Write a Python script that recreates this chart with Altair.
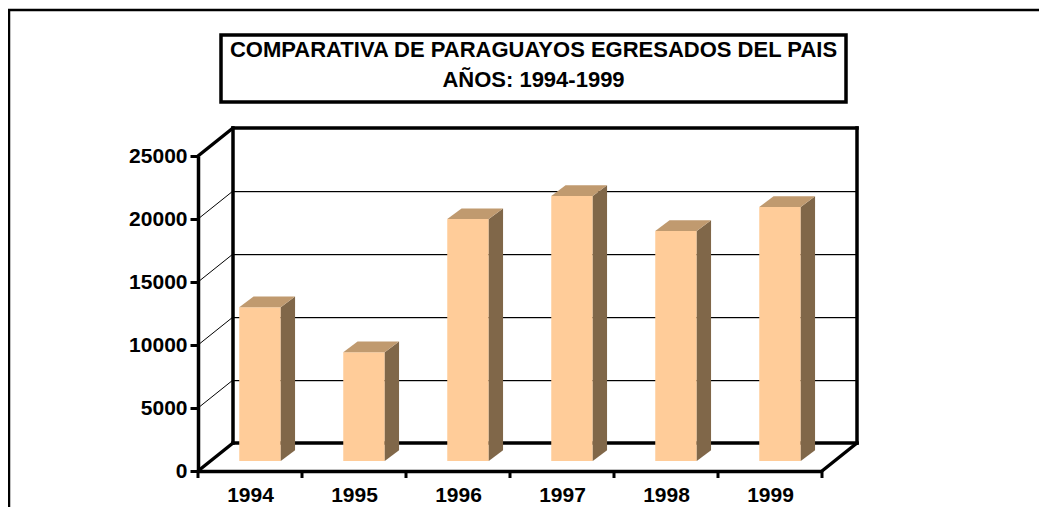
import json
import altair as alt
import pandas as pd

# ---------------- data ----------------
years = ["1994", "1995", "1996", "1997", "1998", "1999"]
egresados = [12200, 8630, 19200, 21030, 18250, 20160]
y_ticks = [0, 5000, 10000, 15000, 20000, 25000]
title_lines = ["COMPARATIVA DE PARAGUAYOS EGRESADOS DEL PAIS", "AÑOS: 1994-1999"]

# ---------------- style / layout ----------------
FONT = "Liberation Sans"
W, H = 624, 315
PAD_L, PAD_T = 190, 148
PAD_R = 1031 - W - PAD_L
PAD_B = 499 - H - PAD_T
YMAX = y_ticks[-1]
N = len(years)

WALL_DX, WALL_DY = 35, 28      # depth of the floor (px)
BAR_DX, BAR_DY = 10, 10        # bar front face set back (px)
DEP_DX, DEP_DY = 14.3, 10.7    # bar depth (px)
BAR_W = 41.5                   # bar width (px)

FRONT = "#FFCC99"
TOP = "#C09A6F"
SIDE = "#806749"

XU = N / W          # category units per px
YU = YMAX / H       # value units per px

xs = alt.Scale(domain=[0, N], nice=False, zero=False)
ys = alt.Scale(domain=[0, YMAX], nice=False, zero=False)

x_axis = alt.Axis(
    values=[i + 0.5 for i in range(N)],
    labelExpr=f"{json.dumps(years)}[floor(datum.value)]",
    ticks=False, grid=False, domainWidth=3.5, domainColor="black",
    labelFont=FONT, labelFontSize=21, labelFontWeight="bold", labelColor="black",
    labelPadding=13, title=None,
)
y_axis = alt.Axis(
    values=y_ticks, format="d", grid=False,
    tickWidth=3, tickSize=8, tickColor="black",
    domainWidth=3.5, domainColor="black",
    labelFont=FONT, labelFontSize=21, labelFontWeight="bold", labelColor="black",
    labelPadding=3, title=None,
)


def X(f):
    return alt.X(f, type="quantitative", scale=xs, axis=x_axis)


def Y(f):
    return alt.Y(f, type="quantitative", scale=ys, axis=y_axis, stack=None)


# ---------------- derived geometry tables ----------------
grid_vals = y_ticks[1:-1]

wall_thick = pd.DataFrame([
    dict(x=0, x2=N, y=0, y2=0),
    dict(x=0, x2=N, y=YMAX, y2=YMAX),
    dict(x=0, x2=0, y=0, y2=YMAX),
    dict(x=N, x2=N, y=0, y2=YMAX),
])
wall_grid = pd.DataFrame([dict(x=0, x2=N, y=g, y2=g) for g in grid_vals])

diag_thick = pd.DataFrame([
    dict(x=0, y=YMAX),
    dict(x=0, y=0),
    dict(x=N, y=0),
])
diag_grid = pd.DataFrame([dict(x=0, y=g) for g in grid_vals])

front_rows, side_rows, top_rows = [], [], []
b = BAR_DY * YU
ddx, ddy = DEP_DX * XU, DEP_DY * YU
for i, (yr, v) in enumerate(zip(years, egresados)):
    c = i + 0.5 + BAR_DX * XU
    xl, xr = c - BAR_W / 2 * XU, c + BAR_W / 2 * XU
    t = b + v
    front_rows.append(dict(year=yr, xl=xl, xr=xr, y0=b, y1=t))
    side_rows += [
        dict(year=yr, x=xr, top=t, bot=b),
        dict(year=yr, x=xr + ddx, top=t + ddy, bot=b + ddy),
    ]
    top_rows += [
        dict(year=yr, x=xl, top=t, bot=t),
        dict(year=yr, x=xl + ddx, top=t + ddy, bot=t),
        dict(year=yr, x=xr, top=t + ddy, bot=t),
        dict(year=yr, x=xr + ddx, top=t + ddy, bot=t + ddy),
    ]
front_df = pd.DataFrame(front_rows)
side_df = pd.DataFrame(side_rows)
top_df = pd.DataFrame(top_rows)
tick_df = pd.DataFrame({"b": list(range(N + 1))})
title_df = pd.DataFrame({"t": ["\n".join(title_lines)]})

# ---------------- layers ----------------
frame = alt.Chart(title_df).mark_rect(
    filled=False, stroke="black", strokeWidth=2.5
).encode(
    x=alt.value(-PAD_L + 1), x2=alt.value(W + PAD_R + 60),
    y=alt.value(-PAD_T + 2), y2=alt.value(H + PAD_B + 60),
)

title_box = alt.Chart(title_df).mark_rect(
    fill="white", stroke="black", strokeWidth=3.5
).encode(
    x=alt.value(23), x2=alt.value(648), y=alt.value(-121), y2=alt.value(-54),
)

title_text = alt.Chart(title_df).mark_text(
    font=FONT, fontSize=22, fontWeight="bold", color="black",
    align="center", baseline="alphabetic", lineBreak="\n", lineHeight=30,
).encode(x=alt.value(335.5), y=alt.value(-99), text="t:N")

grid_shadow = alt.Chart(wall_grid).mark_rule(
    color="#c8c8c8", strokeWidth=1, xOffset=WALL_DX, x2Offset=WALL_DX,
    yOffset=-WALL_DY + 1.5, y2Offset=-WALL_DY + 1.5,
).encode(x=X("x"), x2="x2", y=Y("y"), y2="y2")

wall_g = alt.Chart(wall_grid).mark_rule(
    color="black", strokeWidth=1, xOffset=WALL_DX, x2Offset=WALL_DX,
    yOffset=-WALL_DY + 0.5, y2Offset=-WALL_DY + 0.5,
).encode(x=X("x"), x2="x2", y=Y("y"), y2="y2")

wall_t = alt.Chart(wall_thick).mark_rule(
    color="black", strokeWidth=3.5, xOffset=WALL_DX, x2Offset=WALL_DX,
    yOffset=-WALL_DY, y2Offset=-WALL_DY, strokeCap="square",
).encode(x=X("x"), x2="x2", y=Y("y"), y2="y2")

diag_g = alt.Chart(diag_grid).mark_rule(
    color="black", strokeWidth=1, x2Offset=WALL_DX, y2Offset=-WALL_DY,
).encode(x=X("x"), x2="x", y=Y("y"), y2="y")

diag_t = alt.Chart(diag_thick).mark_rule(
    color="black", strokeWidth=3.5, x2Offset=WALL_DX, y2Offset=-WALL_DY,
    strokeCap="round",
).encode(x=X("x"), x2="x", y=Y("y"), y2="y")

front = alt.Chart(front_df).mark_rect(color=FRONT).encode(
    x=X("xl"), x2="xr", y=Y("y0"), y2="y1"
)

side = alt.Chart(side_df).mark_area(color=SIDE, orient="vertical").encode(
    x=X("x"), y=Y("top"), y2="bot", detail="year:N"
)

top = alt.Chart(top_df).mark_area(color=TOP, orient="vertical").encode(
    x=X("x"), y=Y("top"), y2="bot", detail="year:N"
)

ticks = alt.Chart(tick_df).mark_rule(
    color="black", strokeWidth=3, y2Offset=7
).encode(x=X("b"), y=alt.datum(0, scale=ys), y2=alt.datum(0))

chart = alt.layer(
    frame, title_box, title_text, grid_shadow, wall_g, wall_t, diag_g, diag_t,
    front, side, top, ticks
).properties(
    width=W, height=H,
    autosize=alt.AutoSizeParams(type="none"),
    padding={"left": PAD_L, "top": PAD_T, "right": PAD_R, "bottom": PAD_B},
    background="white",
).configure_view(strokeWidth=0)

chart.save("out.html", embed_options={"renderer": "svg", "actions": False})
